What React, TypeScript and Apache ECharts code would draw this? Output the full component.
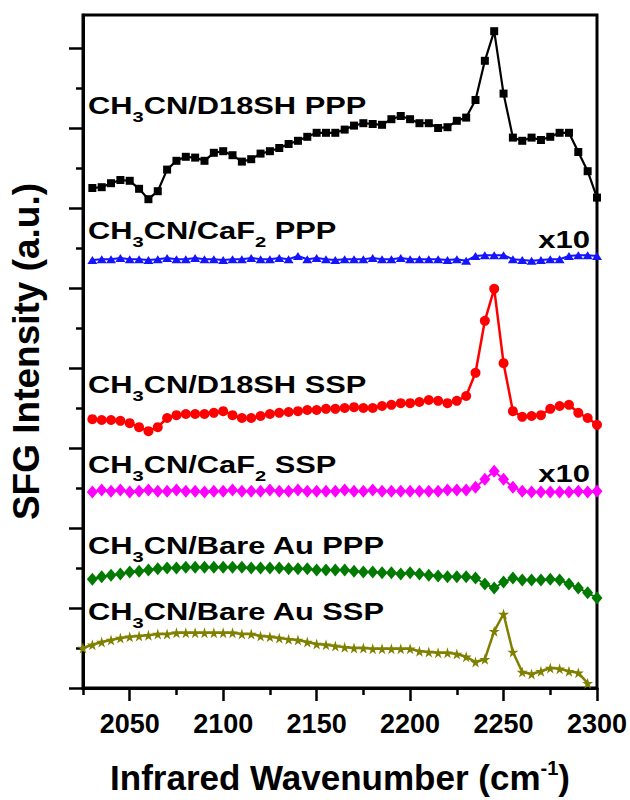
import React, { useEffect, useRef } from 'react';
import * as echarts from 'echarts';

// Wavenumber grids (cm-1)
const wavenumbers = [
  2030, 2035, 2040, 2045, 2050, 2055, 2060, 2065, 2070, 2075, 2080, 2085, 2090, 2095,
  2100, 2105, 2110, 2115, 2120, 2125, 2130, 2135, 2140, 2145, 2150, 2155, 2160, 2165,
  2170, 2175, 2180, 2185, 2190, 2195, 2200, 2205, 2210, 2215, 2220, 2225, 2230, 2235,
  2240, 2245, 2250, 2255, 2260, 2265, 2270, 2275, 2280, 2285, 2290, 2295, 2300,
];
const wavenumbersAuSsp = [
  2025, 2030, 2035, 2040, 2045, 2050, 2055, 2060, 2065, 2070, 2075, 2080, 2085, 2090,
  2095, 2100, 2105, 2110, 2115, 2120, 2125, 2130, 2135, 2140, 2145, 2150, 2155, 2160,
  2165, 2170, 2175, 2180, 2185, 2190, 2195, 2200, 2205, 2210, 2215, 2220, 2225, 2230,
  2235, 2240, 2245, 2250, 2255, 2260, 2265, 2270, 2275, 2280, 2285, 2290, 2295,
];

// Offset SFG intensities (a.u.)
const d18shPPP = [
  62.5, 62.6, 63.1, 63.5, 63.4, 62.4, 61.1, 62.1, 64.8, 65.9, 66.4, 66.3, 65.9, 66.9,
  67.1, 66.6, 65.8, 66.1, 66.8, 67.1, 67.5, 68.0, 68.4, 68.9, 69.4, 69.4, 69.4, 69.8,
  70.3, 70.6, 70.5, 70.4, 71.1, 71.5, 71.1, 70.6, 70.6, 70.0, 70.1, 70.9, 71.3, 73.5,
  78.4, 82.1, 74.3, 68.8, 68.4, 68.8, 68.5, 68.9, 69.4, 69.4, 67.0, 64.6, 61.3,
];
const caf2PPP = [
  53.5, 53.6, 53.6, 53.75, 53.6, 53.6, 53.5, 53.6, 53.75, 53.6, 53.6, 53.75, 53.6, 53.6,
  53.5, 53.6, 53.6, 53.75, 53.6, 53.6, 53.75, 53.6, 54.0, 53.6, 53.75, 53.6, 53.5, 53.6,
  53.6, 53.6, 53.75, 53.6, 53.6, 53.75, 53.6, 53.6, 53.6, 53.6, 53.5, 53.6, 53.4, 54.0,
  54.1, 54.1, 54.1, 53.6, 53.5, 53.4, 53.5, 53.6, 53.6, 54.0, 54.1, 54.1, 54.0,
];
const d18shSSP = [
  33.6, 33.5, 33.5, 33.4, 33.1, 32.6, 32.1, 32.6, 33.75, 34.1, 34.25, 34.25, 34.25, 34.4,
  34.6, 34.1, 33.75, 33.75, 34.0, 34.25, 34.4, 34.5, 34.6, 34.75, 34.75, 34.9, 34.9, 35.0,
  35.1, 35.0, 35.0, 35.25, 35.4, 35.6, 35.6, 35.75, 36.0, 35.9, 35.6, 35.9, 36.5, 39.4,
  45.9, 49.9, 40.6, 34.6, 33.9, 34.0, 34.1, 34.9, 35.25, 35.4, 34.4, 33.75, 32.9,
];
const caf2SSP = [
  24.5, 24.75, 24.6, 24.75, 24.5, 24.6, 24.75, 24.6, 24.6, 24.75, 24.6, 24.6, 24.5, 24.6,
  24.6, 24.75, 24.6, 24.6, 24.6, 24.75, 24.6, 24.6, 24.75, 24.6, 24.6, 24.6, 24.6, 24.75,
  24.6, 24.6, 24.75, 24.6, 24.6, 24.6, 24.6, 24.6, 24.6, 24.6, 24.75, 24.75, 24.75, 25.1,
  26.1, 27.1, 26.1, 25.1, 24.6, 24.5, 24.5, 24.5, 24.5, 24.5, 24.6, 24.5, 24.6,
];
const bareAuPPP = [
  13.6, 13.9, 14.1, 14.25, 14.5, 14.6, 14.75, 14.9, 15.0, 15.0, 15.1, 15.1, 15.1, 15.1,
  15.1, 15.1, 15.1, 15.0, 15.0, 15.0, 15.0, 14.9, 14.9, 14.9, 14.75, 14.75, 14.75, 14.75,
  14.6, 14.5, 14.5, 14.4, 14.4, 14.25, 14.4, 14.25, 14.1, 14.0, 13.9, 13.9, 13.9, 13.75,
  13.0, 12.5, 13.25, 13.75, 13.5, 13.5, 13.5, 13.6, 13.5, 13.0, 12.5, 11.9, 11.25,
];
const bareAuSSP = [
  5.0, 5.4, 5.75, 6.0, 6.25, 6.4, 6.5, 6.6, 6.75, 6.75, 6.9, 6.9, 6.9, 6.9,
  6.9, 6.9, 6.9, 6.75, 6.75, 6.5, 6.4, 6.25, 6.1, 6.0, 5.75, 5.5, 5.4, 5.25,
  5.1, 5.0, 5.0, 4.9, 4.9, 4.9, 4.9, 4.9, 4.6, 4.5, 4.4, 4.4, 4.25, 3.9,
  3.25, 3.6, 7.1, 9.25, 4.5, 2.0, 1.75, 2.1, 2.5, 2.4, 2.1, 1.9, 0.6,
];

// Tick values
const xMajorTicks = [2050, 2100, 2150, 2200, 2250, 2300];
const xMinorTicks = [2025, 2075, 2125, 2175, 2225, 2275];
const yMajorTicks = [0, 10, 20, 30, 40, 50, 60, 70, 80];
const yMinorTicks = [5, 15, 25, 35, 45, 55, 65, 75];

const STAR = 'path://M50,0 L61,35 L98,35 L68,57 L79,91 L50,70 L21,91 L32,57 L2,35 L39,35 Z';
const FONT = "'Liberation Sans', Arial, sans-serif";

const pair = (xs: number[], ys: number[]) => xs.map((x, i) => [x, ys[i]]);

const labelRich = {
  m: { fontSize: 23, fontWeight: 'bold', fontFamily: FONT, fill: '#000', color: '#000' },
  s: { fontSize: 15, fontWeight: 'bold', fontFamily: FONT, fill: '#000', color: '#000', padding: [22, 0, 0, 0] },
};

function seriesLabel(text: string, y: number) {
  return {
    type: 'text',
    x: 88,
    y,
    scaleX: 1.34,
    z: 100,
    style: { text, rich: labelRich, verticalAlign: 'middle', align: 'left', fill: '#000' },
  };
}

function x10(y: number) {
  return {
    type: 'text',
    x: 590,
    y,
    scaleX: 1.35,
    z: 100,
    style: {
      text: 'x10', fontSize: 23, fontWeight: 'bold', fontFamily: FONT, fill: '#000',
      align: 'right', verticalAlign: 'middle',
    },
  };
}

export default function App() {
  const ref = useRef<HTMLDivElement>(null);
  useEffect(() => {
    document.body.style.margin = '0';
    if (!ref.current) return;
    const chart = echarts.init(ref.current, null, { renderer: 'svg' });
    const lineSeries = (name: string, data: number[][], color: string, symbol: string, size: number | number[], width = 2) => ({
      name, type: 'line', data, symbol, symbolSize: size, showSymbol: true,
      lineStyle: { color, width }, itemStyle: { color, borderWidth: 0 },
      emphasis: { disabled: true }, clip: false,
    });
    chart.setOption({
      animation: false,
      backgroundColor: '#fff',
      grid: {
        left: 83, right: 33, top: 15, bottom: 112,
        show: true, borderColor: '#000', borderWidth: 3, backgroundColor: 'transparent',
        outerBoundsMode: 'none',
      },
      xAxis: [
        {
          type: 'value', min: 2025, max: 2300, position: 'bottom',
          axisLine: { show: true, lineStyle: { color: '#000', width: 3 } },
          axisTick: { show: true, customValues: xMajorTicks, length: 13, lineStyle: { color: '#000', width: 2.5 } },
          axisLabel: {
            customValues: xMajorTicks, color: '#000', fontSize: 27, fontWeight: 'bold', fontFamily: FONT, margin: 22,
            formatter: (v: number) => String(v),
          },
          splitLine: { show: false },
          name: 'Infrared Wavenumber (cm{sup|-1})',
          nameLocation: 'middle',
          nameGap: 70,
          nameTextStyle: {
            color: '#000', fontSize: 35, fontWeight: 'bold', fontFamily: FONT,
            rich: { sup: { fontSize: 20, fontWeight: 'bold', fontFamily: FONT, color: '#000', padding: [0, 0, 18, 0] } },
          },
        },
        {
          type: 'value', min: 2025, max: 2300, position: 'bottom',
          axisLine: { show: false },
          axisTick: { show: true, customValues: xMinorTicks, length: 7, lineStyle: { color: '#000', width: 2.5 } },
          axisLabel: { show: false },
          splitLine: { show: false },
        },
      ],
      yAxis: [
        {
          type: 'value', min: 0, max: 84.125, position: 'left',
          axisLine: { show: true, lineStyle: { color: '#000', width: 3 } },
          axisTick: { show: true, customValues: yMajorTicks, length: 14, lineStyle: { color: '#000', width: 2.5 } },
          axisLabel: { show: false },
          splitLine: { show: false },
          name: 'SFG Intensity (a.u.)',
          nameLocation: 'middle',
          nameGap: 38,
          nameTextStyle: { color: '#000', fontSize: 37, fontWeight: 'bold', fontFamily: FONT },
        },
        {
          type: 'value', min: 0, max: 84.125, position: 'left',
          axisLine: { show: false },
          axisTick: { show: true, customValues: yMinorTicks, length: 7, lineStyle: { color: '#000', width: 2.5 } },
          axisLabel: { show: false },
          splitLine: { show: false },
        },
      ],
      series: [
        lineSeries('CH3CN/Bare Au SSP', pair(wavenumbersAuSsp, bareAuSSP), '#808000', STAR, 11, 2.5),
        lineSeries('CH3CN/Bare Au PPP', pair(wavenumbers, bareAuPPP), '#007a00', 'diamond', [11, 13], 2),
        lineSeries('CH3CN/CaF2 SSP', pair(wavenumbers, caf2SSP), '#ff00ff', 'diamond', [11, 13], 2),
        lineSeries('CH3CN/D18SH SSP', pair(wavenumbers, d18shSSP), '#ff0000', 'circle', 10, 2.5),
        lineSeries('CH3CN/CaF2 PPP', pair(wavenumbers, caf2PPP), '#1414ff', 'triangle', [10, 8], 2),
        lineSeries('CH3CN/D18SH PPP', pair(wavenumbers, d18shPPP), '#000000', 'rect', 8, 2.2),
      ],
      graphic: [
        seriesLabel('{m|CH}{s|3}{m|CN/D18SH PPP}', 106),
        seriesLabel('{m|CH}{s|3}{m|CN/CaF}{s|2}{m| PPP}', 231),
        seriesLabel('{m|CH}{s|3}{m|CN/D18SH SSP}', 385),
        seriesLabel('{m|CH}{s|3}{m|CN/CaF}{s|2}{m| SSP}', 465),
        seriesLabel('{m|CH}{s|3}{m|CN/Bare Au PPP}', 546),
        seriesLabel('{m|CH}{s|3}{m|CN/Bare Au SSP}', 612),
        x10(240),
        x10(474),
      ],
    });
    return () => chart.dispose();
  }, []);
  return <div ref={ref} style={{ width: 630, height: 800 }} />;
}
